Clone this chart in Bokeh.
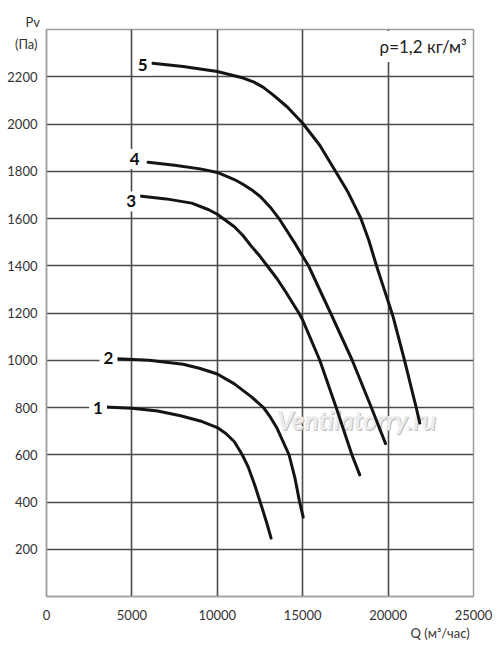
from bokeh.plotting import figure
from bokeh.models import Range1d, FixedTicker, Label, Title
from bokeh.embed import file_html
from bokeh.resources import INLINE

# --- data ---
q1 = [3400, 5000, 6500, 7850, 9000, 10000, 10500, 11000, 11460, 11800, 12200, 12600, 12900, 13150]
p1 = [802, 797, 785, 765, 743, 715, 690, 655, 600, 550, 470, 380, 310, 247]

q2 = [4150, 6000, 8000, 9000, 10000, 11000, 12000, 12700, 13100, 13500, 14200, 14550, 14820, 15030]
p2 = [1006, 1000, 983, 965, 942, 900, 845, 800, 760, 712, 600, 500, 400, 336]

q3 = [5450, 7000, 8500, 9500, 10000, 11000, 11500, 12000, 12500, 12920, 13500, 14000, 14775, 15000, 16000, 16960, 17880, 18340]
p3 = [1695, 1683, 1665, 1637, 1618, 1565, 1528, 1482, 1440, 1400, 1345, 1290, 1200, 1170, 1000, 800, 600, 515]

q4 = [5950, 7500, 9000, 10000, 11000, 11500, 12000, 12530, 13100, 13650, 14500, 15000, 15340, 16630, 17900, 19020, 19850]
p4 = [1838, 1825, 1810, 1795, 1765, 1745, 1722, 1692, 1648, 1596, 1500, 1440, 1400, 1200, 1000, 800, 647]

q5 = [6200, 8000, 10000, 11400, 12150, 12700, 13300, 14100, 15000, 16000, 16920, 17650, 18380, 18870, 19320, 19680, 20000, 20290, 20960, 21645, 21856]
p5 = [2257, 2243, 2222, 2197, 2177, 2155, 2121, 2072, 2003, 1910, 1800, 1712, 1605, 1508, 1400, 1320, 1250, 1185, 1000, 800, 734]

curves_q = [q1, q2, q3, q4, q5]
curves_p = [p1, p2, p3, p4, p5]

curve_names = ["1", "2", "3", "4", "5"]
name_q = [3015, 3630, 4965, 5170, 5632]
name_p = [797, 1010, 1672, 1852, 2248]

x_ticks = [0, 5000, 10000, 15000, 20000, 25000]
y_ticks = [200, 400, 600, 800, 1000, 1200, 1400, 1600, 1800, 2000, 2200]
x_grid = [5000, 10000, 15000, 20000]

density_text = "ρ=1,2 кг/м³"
y_unit = "(Па)"
y_unit_at = 2337
y_name = "Pv"
x_title = "Q (м³/час)"
watermark = "Ventilatorry.ru"

FONT = "Lato"

p = figure(width=500, height=640, x_range=Range1d(0, 25000), y_range=Range1d(0, 2400),
           output_backend="svg", toolbar_location=None,
           min_border_left=46, min_border_right=27, min_border_top=29, min_border_bottom=43)

p.background_fill_color = "white"
p.border_fill_color = "white"
p.outline_line_color = "#a0a0a0"
p.outline_line_width = 1.5

p.xaxis.ticker = FixedTicker(ticks=x_ticks)
p.yaxis.ticker = FixedTicker(ticks=y_ticks + [y_unit_at])
p.yaxis.major_label_overrides = {y_unit_at: y_unit}
for ax in (p.xaxis, p.yaxis):
    ax.axis_line_color = "#a0a0a0"
    ax.axis_line_width = 1.5
    ax.major_tick_line_color = None
    ax.minor_tick_line_color = None
    ax.major_label_text_font = FONT
    ax.major_label_text_font_size = "13px"
    ax.major_label_text_color = "#333333"
p.xaxis.major_label_standoff = 7
p.yaxis.major_label_standoff = 3

p.xgrid.ticker = FixedTicker(ticks=x_grid)
p.ygrid.ticker = FixedTicker(ticks=y_ticks)
p.xgrid.grid_line_color = "#4a4a4a"
p.ygrid.grid_line_color = "#4a4a4a"
p.xgrid.grid_line_width = 1.6
p.ygrid.grid_line_width = 1.6

p.add_layout(Title(text=y_name, align="left", offset=-21, standoff=0,
                   text_font=FONT, text_font_size="13px", text_font_style="normal",
                   text_color="#333333"), "above")
p.add_layout(Title(text=" ", align="left", standoff=0,
                   text_font=FONT, text_font_size="7px", text_font_style="normal",
                   text_color="#ffffff"), "above")
p.add_layout(Title(text=x_title, align="right", offset=4, standoff=0,
                   text_font=FONT, text_font_size="13px", text_font_style="normal",
                   text_color="#333333"), "below")

# watermark
p.add_layout(Label(x=18150, y=748, text=watermark, text_align="center", text_baseline="middle",
                   text_font=FONT, text_font_size="26px", text_font_style="bold italic",
                   text_color="#bdbdbd", x_offset=1, y_offset=-1, level="underlay"))
p.add_layout(Label(x=18150, y=748, text=watermark, text_align="center", text_baseline="middle",
                   text_font=FONT, text_font_size="26px", text_font_style="bold italic",
                   text_color="#ececec", level="underlay"))

for q, pv in zip(curves_q, curves_p):
    p.line(q, pv, line_width=3, line_color="#141414", line_join="round", line_cap="round")

for name, xq, yp in zip(curve_names, name_q, name_p):
    p.add_layout(Label(x=xq, y=yp, text=name, text_align="center", text_baseline="middle",
                       text_font=FONT, text_font_size="17px", text_font_style="bold",
                       text_color="#111111", background_fill_color="white", padding=4))

p.add_layout(Label(x=24900, y=2328, text=density_text, text_align="right", text_baseline="middle",
                   text_font=FONT, text_font_size="17px", text_color="#222222",
                   background_fill_color="white", padding=5))

open("out.html", "w").write(file_html(p, INLINE))
